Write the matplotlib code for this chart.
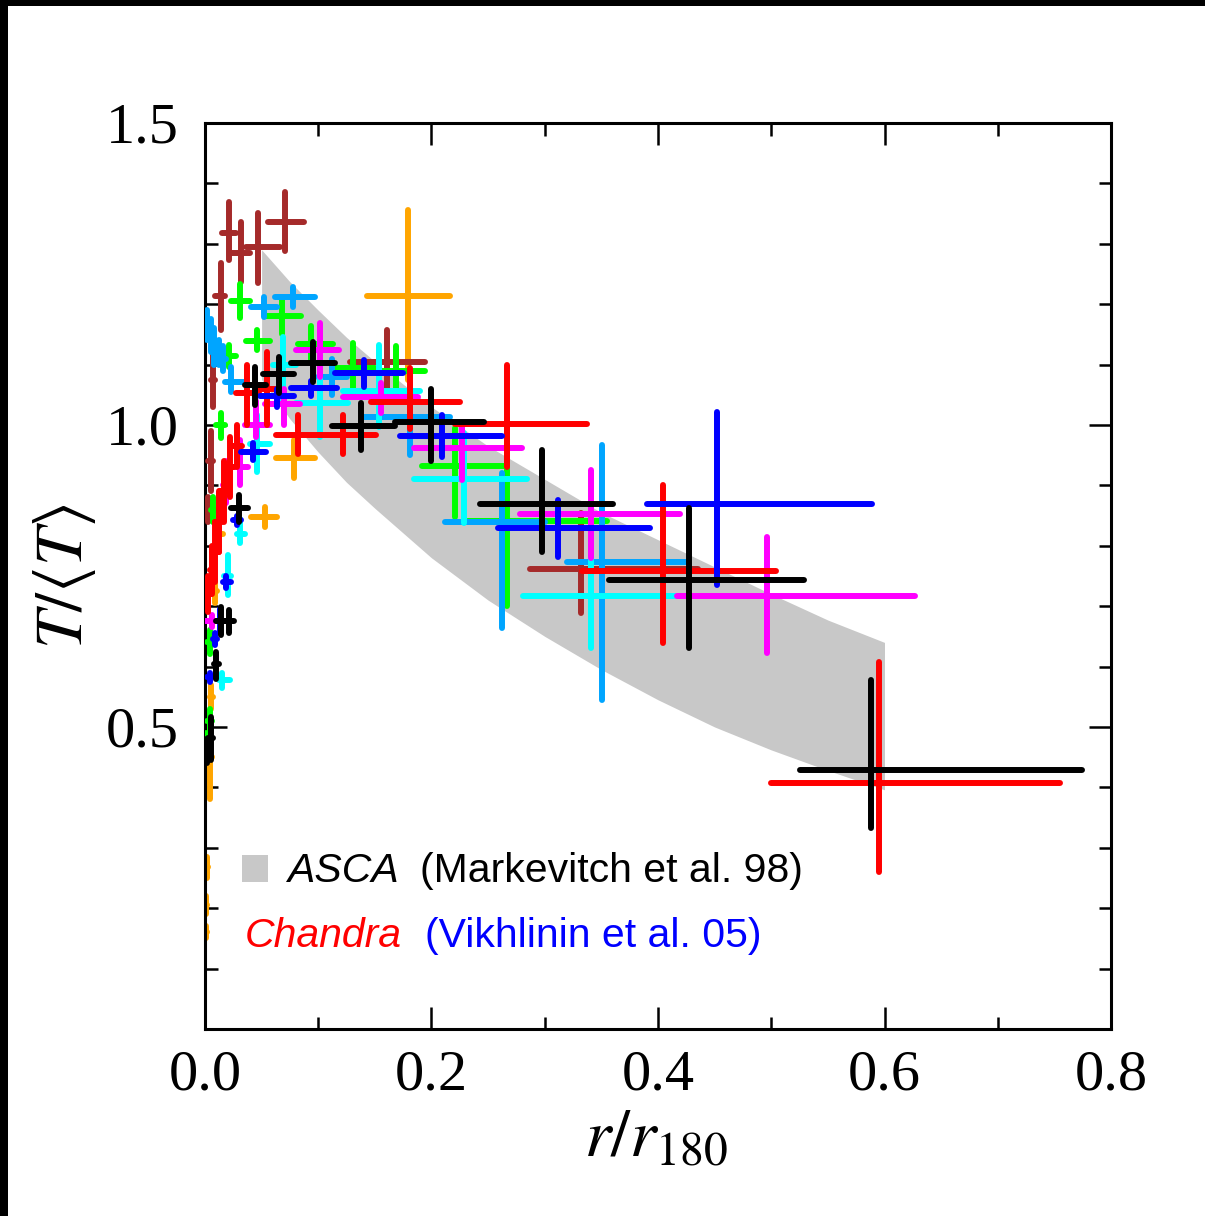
# Temperature profiles T/<T> vs r/r180 with ASCA band (Markevitch 98)
# and Chandra clusters (Vikhlinin 05). Saves out.png

import matplotlib
matplotlib.use("Agg")
import matplotlib.pyplot as plt
import numpy as np
from matplotlib.patches import Rectangle
from matplotlib.ticker import MultipleLocator

plt.rcParams["mathtext.fontset"] = "stix"
plt.rcParams["font.family"] = "Liberation Serif"

# ---------- data ----------
# ASCA band
band_r  = [0.05, 0.075, 0.10, 0.125, 0.15, 0.20, 0.25, 0.30, 0.35, 0.40, 0.45, 0.50, 0.55, 0.60]
band_hi = [1.29, 1.237, 1.19, 1.145, 1.105, 1.03, 0.965, 0.91, 0.855, 0.81, 0.765, 0.72, 0.677, 0.64]
band_lo = [1.075, 1.01, 0.955, 0.905, 0.862, 0.78, 0.71, 0.65, 0.595, 0.545, 0.50, 0.462, 0.428, 0.396]

# each row: r, r_min, r_max, T, T_min, T_max
orange_pts = [
    (0.179, 0.143, 0.216, 1.213, 1.074, 1.356),
    (0.079, 0.063, 0.097, 0.945, 0.912, 0.975),
    (0.053, 0.041, 0.064, 0.848, 0.831, 0.864),
    (0.012, 0.009, 0.016, 0.82, 0.80, 0.84),
    (0.009, 0.007, 0.011, 0.725, 0.705, 0.745),
    (0.005, 0.004, 0.007, 0.55, 0.53, 0.57),
    (0.004, 0.003, 0.006, 0.45, 0.38, 0.52),
    (0.002, 0.001, 0.003, 0.268, 0.25, 0.285),
    (0.001, 0.000, 0.002, 0.205, 0.19, 0.22),
    (0.001, 0.000, 0.002, 0.16, 0.15, 0.17),
]
brown_pts = [
    (0.071, 0.056, 0.087, 1.336, 1.288, 1.386),
    (0.047, 0.036, 0.066, 1.295, 1.235, 1.351),
    (0.032, 0.023, 0.040, 1.285, 1.237, 1.336),
    (0.021, 0.015, 0.027, 1.318, 1.273, 1.369),
    (0.014, 0.009, 0.018, 1.214, 1.157, 1.268),
    (0.007, 0.005, 0.009, 1.075, 1.03, 1.12),
    (0.005, 0.003, 0.007, 0.94, 0.89, 0.99),
    (0.003, 0.001, 0.005, 0.86, 0.84, 0.88),
    (0.161, 0.128, 0.194, 1.104, 1.058, 1.157),
    (0.332, 0.287, 0.435, 0.762, 0.689, 0.854),
]
green_pts = [
    (0.031, 0.023, 0.040, 1.205, 1.177, 1.234),
    (0.068, 0.054, 0.085, 1.18, 1.151, 1.209),
    (0.046, 0.036, 0.057, 1.139, 1.124, 1.157),
    (0.021, 0.015, 0.027, 1.114, 1.096, 1.132),
    (0.094, 0.082, 0.113, 1.134, 1.106, 1.164),
    (0.131, 0.112, 0.150, 1.095, 1.052, 1.136),
    (0.169, 0.150, 0.194, 1.09, 1.05, 1.13),
    (0.221, 0.192, 0.267, 0.932, 0.848, 0.995),
    (0.267, 0.232, 0.355, 0.841, 0.70, 1.011),
    (0.014, 0.010, 0.018, 1.0, 0.978, 1.02),
    (0.007, 0.005, 0.009, 0.86, 0.84, 0.88),
    (0.004, 0.002, 0.006, 0.64, 0.62, 0.66),
    (0.004, 0.002, 0.006, 0.51, 0.49, 0.53),
    (0.001, 0.000, 0.002, 0.48, 0.47, 0.49),
]
sky_pts = [
    (0.078, 0.062, 0.097, 1.212, 1.195, 1.228),
    (0.052, 0.041, 0.064, 1.195, 1.179, 1.212),
    (0.023, 0.018, 0.035, 1.071, 1.055, 1.096),
    (0.002, 0.000, 0.004, 1.165, 1.14, 1.19),
    (0.005, 0.003, 0.007, 1.15, 1.12, 1.175),
    (0.008, 0.006, 0.010, 1.13, 1.10, 1.16),
    (0.012, 0.010, 0.015, 1.12, 1.10, 1.14),
    (0.016, 0.014, 0.019, 1.11, 1.09, 1.13),
    (0.112, 0.100, 0.125, 1.08, 1.05, 1.11),
    (0.181, 0.140, 0.216, 1.013, 0.95, 1.07),
    (0.262, 0.212, 0.300, 0.839, 0.664, 0.92),
    (0.351, 0.320, 0.426, 0.773, 0.545, 0.967),
]
cyan_pts = [
    (0.341, 0.281, 0.424, 0.717, 0.631, 0.838),
    (0.229, 0.185, 0.284, 0.911, 0.838, 0.986),
    (0.154, 0.122, 0.190, 1.056, 0.997, 1.132),
    (0.102, 0.080, 0.126, 1.036, 0.98, 1.10),
    (0.069, 0.060, 0.080, 1.10, 1.037, 1.146),
    (0.046, 0.040, 0.057, 0.968, 0.922, 1.016),
    (0.031, 0.028, 0.035, 0.82, 0.805, 0.845),
    (0.020, 0.017, 0.023, 0.75, 0.718, 0.784),
    (0.015, 0.012, 0.022, 0.578, 0.565, 0.59),
]
magenta_pts = [
    (0.496, 0.417, 0.627, 0.717, 0.623, 0.815),
    (0.341, 0.278, 0.419, 0.853, 0.78, 0.925),
    (0.227, 0.185, 0.280, 0.962, 0.909, 0.997),
    (0.155, 0.122, 0.188, 1.046, 1.02, 1.07),
    (0.102, 0.080, 0.118, 1.124, 1.08, 1.169),
    (0.070, 0.053, 0.084, 1.035, 1.0, 1.06),
    (0.045, 0.035, 0.057, 1.0, 0.98, 1.04),
    (0.031, 0.026, 0.038, 0.93, 0.90, 0.975),
    (0.019, 0.016, 0.022, 0.90, 0.87, 0.94),
    (0.006, 0.000, 0.012, 0.675, 0.665, 0.685),
]
red_pts = [
    (0.595, 0.500, 0.755, 0.407, 0.26, 0.608),
    (0.404, 0.333, 0.504, 0.758, 0.639, 0.901),
    (0.267, 0.221, 0.337, 1.002, 0.93, 1.099),
    (0.181, 0.147, 0.225, 1.038, 0.993, 1.095),
    (0.122, 0.102, 0.151, 0.983, 0.952, 1.016),
    (0.082, 0.063, 0.102, 0.983, 0.952, 1.016),
    (0.055, 0.048, 0.065, 1.06, 1.0, 1.12),
    (0.037, 0.027, 0.048, 1.053, 1.0, 1.10),
    (0.028, 0.025, 0.033, 0.965, 0.93, 1.0),
    (0.022, 0.018, 0.026, 0.93, 0.88, 0.98),
    (0.017, 0.013, 0.021, 0.89, 0.84, 0.94),
    (0.012, 0.009, 0.015, 0.84, 0.79, 0.89),
    (0.009, 0.006, 0.012, 0.79, 0.74, 0.84),
    (0.006, 0.004, 0.008, 0.76, 0.72, 0.80),
    (0.003, 0.001, 0.005, 0.72, 0.69, 0.75),
]
blue_pts = [
    (0.452, 0.390, 0.589, 0.869, 0.735, 1.022),
    (0.312, 0.259, 0.393, 0.829, 0.781, 0.876),
    (0.209, 0.172, 0.262, 0.982, 0.947, 1.017),
    (0.140, 0.115, 0.175, 1.086, 1.063, 1.108),
    (0.094, 0.076, 0.117, 1.061, 1.048, 1.073),
    (0.064, 0.049, 0.079, 1.048, 1.03, 1.06),
    (0.042, 0.032, 0.054, 0.955, 0.942, 0.97),
    (0.028, 0.025, 0.032, 0.842, 0.835, 0.85),
    (0.019, 0.016, 0.023, 0.74, 0.73, 0.75),
    (0.013, 0.011, 0.015, 0.675, 0.655, 0.695),
    (0.009, 0.007, 0.011, 0.645, 0.635, 0.655),
    (0.004, 0.002, 0.006, 0.582, 0.575, 0.59),
]
black_pts = [
    (0.588, 0.525, 0.774, 0.429, 0.333, 0.578),
    (0.427, 0.357, 0.529, 0.743, 0.631, 0.863),
    (0.298, 0.243, 0.360, 0.869, 0.79, 0.959),
    (0.200, 0.168, 0.246, 1.005, 0.94, 1.06),
    (0.138, 0.112, 0.168, 0.998, 0.959, 1.036),
    (0.095, 0.076, 0.115, 1.103, 1.071, 1.137),
    (0.065, 0.051, 0.079, 1.084, 1.053, 1.113),
    (0.044, 0.035, 0.054, 1.066, 1.033, 1.096),
    (0.030, 0.023, 0.038, 0.863, 0.839, 0.884),
    (0.021, 0.017, 0.026, 0.675, 0.656, 0.693),
    (0.014, 0.010, 0.018, 0.675, 0.653, 0.698),
    (0.010, 0.008, 0.012, 0.604, 0.58, 0.624),
    (0.005, 0.003, 0.007, 0.482, 0.445, 0.517),
    (0.002, 0.000, 0.004, 0.46, 0.44, 0.48),
]

series = [
    (orange_pts, "#FFA500"),
    (brown_pts, "#A52A2A"),
    (green_pts, "#00FF00"),
    (sky_pts, "#00A5FF"),
    (cyan_pts, "#00FFFF"),
    (magenta_pts, "#FF00FF"),
    (red_pts, "#FF0000"),
    (blue_pts, "#0000FF"),
    (black_pts, "#000000"),
]

# ---------- figure ----------
fig = plt.figure(figsize=(12.05, 12.16), dpi=100)
ax = fig.add_axes([0.1701, 0.1538, 0.7519, 0.7451])

ax.fill_between(band_r, band_lo, band_hi, color="#c8c8c8", lw=0, zorder=1)

for i, (pts, col) in enumerate(series):
    a = np.array(pts)
    x, xlo, xhi, y, ylo, yhi = a.T
    eb = ax.errorbar(x, y, xerr=[x - xlo, xhi - x], yerr=[y - ylo, yhi - y],
                     fmt="none", ecolor=col, elinewidth=4.3, capsize=0,
                     zorder=2 + i)
    for lc in eb[2]:
        lc.set_capstyle("round")

ax.set_xlim(0, 0.8)
ax.set_ylim(0, 1.5)
ax.set_xticks([0.0, 0.2, 0.4, 0.6, 0.8])
ax.set_xticklabels(["0.0", "0.2", "0.4", "0.6", "0.8"])
ax.set_yticks([0.5, 1.0, 1.5])
ax.set_yticklabels(["0.5", "1.0", "1.5"])
ax.xaxis.set_minor_locator(MultipleLocator(0.1))
ax.yaxis.set_minor_locator(MultipleLocator(0.1))
ax.tick_params(which="both", direction="in", top=True, right=True,
               width=1.8, labelsize=42)
ax.tick_params(which="major", length=16)
ax.tick_params(which="minor", length=9)
ax.tick_params(axis="x", which="major", pad=15)
ax.tick_params(axis="y", which="major", pad=19)
for s in ax.spines.values():
    s.set_linewidth(2.2)

ax.set_xlabel(r"$r/r_{180}$", fontsize=49, va="center")
ax.xaxis.set_label_coords(0.498, -0.1225)
ax.set_ylabel(r"$T/\langle T\rangle$", fontsize=49, va="center")
ax.yaxis.set_label_coords(-0.155, 0.5)

# legend-like annotations
ax.add_patch(Rectangle((0.0408, 0.162), 0.0287, 0.0298, transform=ax.transAxes,
                       color="#c8c8c8", lw=0, zorder=20))
lab = dict(transform=ax.transAxes, family="Liberation Sans", fontsize=29.5,
           va="baseline", zorder=20)
ax.text(0.0905, 0.162, "ASCA", style="italic", color="black", **lab)
ax.text(0.2373, 0.162, "(Markevitch et al. 98)", color="black", **lab)
ax.text(0.0442, 0.0905, "Chandra", style="italic", color="#FF0000", **lab)
ax.text(0.2428, 0.0905, "(Vikhlinin et al. 05)", color="#0000FF", **lab)

# black frame strips on top and left edge
fig.add_artist(Rectangle((0, 1 - 6 / 1216), 1, 6 / 1216,
                         transform=fig.transFigure, color="black", lw=0))
fig.add_artist(Rectangle((0, 0), 8 / 1205, 1,
                         transform=fig.transFigure, color="black", lw=0))

fig.savefig("out.png", dpi=100)
